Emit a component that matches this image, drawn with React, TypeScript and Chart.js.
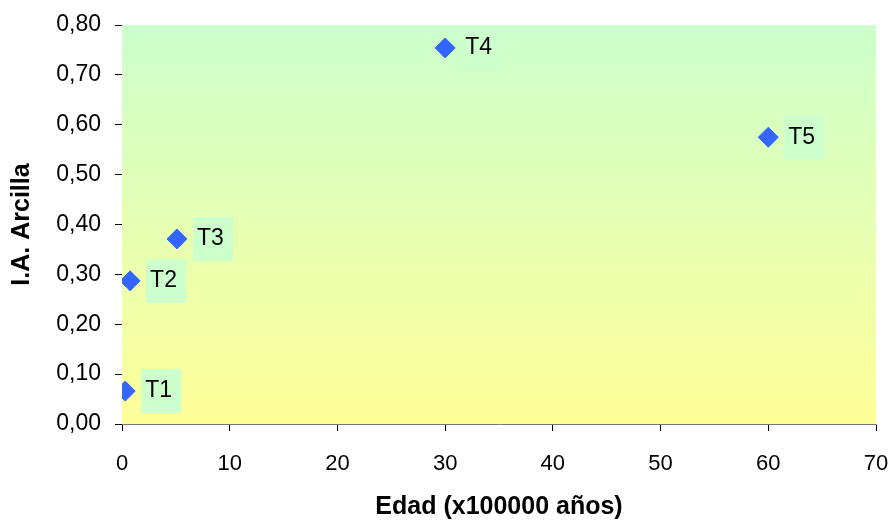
import React, { useEffect, useRef } from "react";
import { Chart, registerables } from "chart.js";

Chart.register(...registerables);

// Muestras y sus valores
const sampleLabels = ["T1", "T2", "T3", "T4", "T5"];
const edadValues = [0.3, 0.75, 5.1, 30, 60];
const arcillaValues = [0.066, 0.287, 0.371, 0.754, 0.575];

const FONT = "'Liberation Sans', Arial, sans-serif";

// Fondo degradado del área de trazado (verde arriba, amarillo abajo)
const gradientBackground = {
  id: "gradientBackground",
  beforeDatasetsDraw(chart: any) {
    const { ctx, chartArea } = chart;
    const { left, top, right, bottom } = chartArea;
    const g = ctx.createLinearGradient(0, top, 0, bottom);
    g.addColorStop(0, "#ccffcc");
    g.addColorStop(1, "#ffff99");
    ctx.save();
    ctx.fillStyle = g;
    ctx.fillRect(left, top, right - left, bottom - top);
    ctx.restore();
  },
};

// Etiquetas de cada muestra con recuadro verde claro
const pointLabels = {
  id: "pointLabels",
  afterDatasetsDraw(chart: any) {
    const { ctx } = chart;
    const meta = chart.getDatasetMeta(0);
    ctx.save();
    ctx.font = `23px ${FONT}`;
    ctx.textBaseline = "middle";
    ctx.textAlign = "left";
    meta.data.forEach((pt: any, i: number) => {
      const bx = pt.x + 16;
      const by = pt.y - 22;
      ctx.fillStyle = "#ccffcc";
      ctx.fillRect(bx, by, 40, 44);
      ctx.fillStyle = "#000000";
      ctx.fillText(sampleLabels[i], pt.x + 20, pt.y);
    });
    ctx.restore();
  },
};

export default function App() {
  const canvasRef = useRef<HTMLCanvasElement | null>(null);

  useEffect(() => {
    document.body.style.margin = "0";
    const canvas = canvasRef.current;
    if (!canvas) return;
    const chart = new Chart(canvas, {
      type: "scatter",
      data: {
        datasets: [
          {
            label: "I.A. Arcilla",
            data: edadValues.map((x, i) => ({ x, y: arcillaValues[i] })),
            pointStyle: "rectRot",
            pointRadius: 10,
            pointHoverRadius: 10,
            backgroundColor: "#3366ff",
            borderColor: "#3366ff",
            borderWidth: 1,
          },
        ],
      },
      options: {
        animation: false,
        responsive: false,
        maintainAspectRatio: false,
        layout: { padding: { top: 25, right: 17, left: 0, bottom: 0 } },
        plugins: {
          legend: { display: false },
          tooltip: { enabled: false },
        },
        scales: {
          x: {
            type: "linear",
            min: 0,
            max: 70,
            ticks: {
              stepSize: 10,
              color: "#000",
              padding: 20,
              font: { family: FONT, size: 22 },
            },
            grid: {
              drawOnChartArea: false,
              tickLength: 7,
              color: "#000",
            },
            border: { color: "#777", width: 1 },
            title: {
              display: true,
              text: "Edad (x100000 años)",
              color: "#000",
              font: { family: FONT, size: 25, weight: "bold", lineHeight: 1 },
              padding: 0,
            },
            afterFit(scale: any) {
              scale.height = 96;
              scale.paddingLeft = 0;
              scale.paddingRight = 0;
            },
          },
          y: {
            type: "linear",
            min: 0,
            max: 0.8,
            ticks: {
              stepSize: 0.1,
              color: "#000",
              padding: 14,
              font: { family: FONT, size: 23 },
              callback: (v: any) => Number(v).toFixed(2).replace(".", ","),
            },
            grid: {
              drawOnChartArea: false,
              tickLength: 7,
              color: "#000",
            },
            border: { color: "#777", width: 1 },
            title: {
              display: true,
              text: "I.A. Arcilla",
              color: "#000",
              font: { family: FONT, size: 25, weight: "bold", lineHeight: 1 },
              padding: { top: 10, bottom: 0 },
            },
            afterFit(scale: any) {
              scale.width = 122;
              scale.paddingTop = 0;
              scale.paddingBottom = 0;
            },
          },
        },
      },
      plugins: [gradientBackground, pointLabels],
    });
    return () => chart.destroy();
  }, []);

  return (
    <div style={{ width: 893, height: 520 }}>
      <canvas ref={canvasRef} width={893} height={520} style={{ display: "block" }} />
    </div>
  );
}
